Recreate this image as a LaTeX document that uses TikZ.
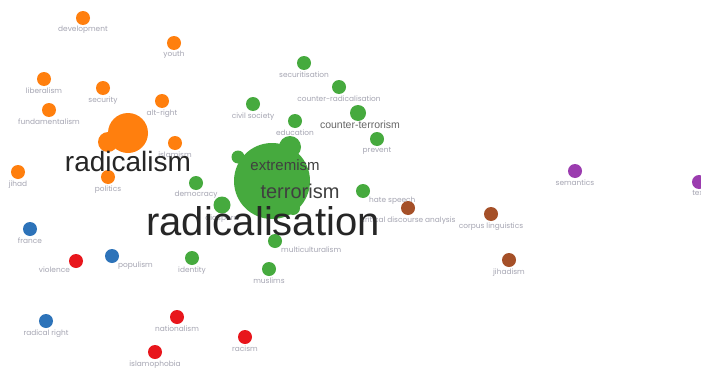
\documentclass[tikz,border=0pt]{standalone}
\usepackage{fontspec}
\setmainfont{Liberation Sans}
\newfontfamily\smallfont{Poppins}
\usetikzlibrary{backgrounds}
\definecolor{orangeterm}{RGB}{255,127,14}
\definecolor{greenterm}{RGB}{70,170,62}
\definecolor{blueterm}{RGB}{45,115,185}
\definecolor{redterm}{RGB}{232,22,28}
\definecolor{brownterm}{RGB}{165,80,40}
\definecolor{purpleterm}{RGB}{155,60,175}
\definecolor{labgrey}{RGB}{165,165,178}
\definecolor{linkgrey}{RGB}{212,212,212}
\definecolor{linkorange}{RGB}{250,208,172}
\begin{document}
\begin{tikzpicture}[x=1pt,y=-1pt]
	\tikzstyle{term}=[circle,inner sep=0pt,minimum size=14pt]
	\tikzstyle{oterm}=[term,fill=orangeterm]
	\tikzstyle{gterm}=[term,fill=greenterm]
	\tikzstyle{bterm}=[term,fill=blueterm]
	\tikzstyle{rterm}=[term,fill=redterm]
	\tikzstyle{nterm}=[term,fill=brownterm]
	\tikzstyle{pterm}=[term,fill=purpleterm]
	\tikzstyle{lab}=[font=\smallfont\fontsize{7.4}{8}\selectfont,text=labgrey,inner sep=0.5pt,label distance=0.5pt]
	\tikzstyle{link}=[draw=linkgrey,line width=0.9pt]
	\tikzstyle{olink}=[draw=linkorange,line width=0.9pt]
	\tikzstyle{biglab}=[inner sep=0pt,text=black!85]
	\useasboundingbox[fill=white] (0,0) rectangle (701,372);
	% orange cluster
	\node [oterm,label={[lab]below:development}] (development) at (83,18) {};
	\node [oterm,label={[lab]below:youth}] (youth) at (174,43) {};
	\node [oterm,label={[lab]below:liberalism}] (liberalism) at (44,79) {};
	\node [oterm,label={[lab]below:security}] (security) at (103,88) {};
	\node [oterm,label={[lab]below:alt-right}] (altright) at (162,101) {};
	\node [oterm,label={[lab]below:fundamentalism}] (fundamentalism) at (49,110) {};
	\node [oterm,label={[lab]below:islamism}] (islamism) at (175,143) {};
	\node [oterm,label={[lab]below:jihad}] (jihad) at (18,172) {};
	\node [oterm,label={[lab]below:politics}] (politics) at (108,177) {};
	\node [oterm,minimum size=20pt] (radicalism2) at (108,142) {};
	\node [oterm,minimum size=40pt] (radicalism) at (128,133) {};
	% green cluster
	\node [gterm,label={[lab]below:securitisation}] (securitisation) at (304,63) {};
	\node [gterm,label={[lab]below:counter-radicalisation}] (counterrad) at (339,87) {};
	\node [gterm,label={[lab]below:civil society}] (civilsociety) at (253,104) {};
	\node [gterm,label={[lab]below:education}] (education) at (295,121) {};
	\node [gterm,minimum size=16pt] (counterterrorism) at (358,113) {};
	\node [gterm,label={[lab]below:prevent}] (prevent) at (377,139) {};
	\node [gterm,minimum size=13pt,label={[lab]below right=-1pt and -4pt:ideology}] (ideology) at (238,157) {};
	\node [gterm,label={[lab]below:democracy}] (democracy) at (196,183) {};
	\node [gterm,minimum size=17pt,label={[lab]below:diaspora}] (diaspora) at (222,205) {};
	\node [gterm] (policy) at (293,208) {};
	\node [gterm,label={[lab]below right=-1pt and -6pt:hate speech}] (hatespeech) at (363,191) {};
	\node [gterm,label={[lab]below right=-1pt and -10pt:multiculturalism}] (multiculturalism) at (275,241) {};
	\node [gterm,label={[lab]below:identity}] (identity) at (192,258) {};
	\node [gterm,label={[lab]below:muslims}] (muslims) at (269,269) {};
	\node [gterm,minimum size=22pt] (extremism) at (290,147) {};
	\node [gterm,minimum size=76pt] (radicalisation) at (272,181) {};
	% blue and red cluster
	\node [bterm,label={[lab]below:france}] (france) at (30,229) {};
	\node [bterm,label={[lab]below right=-1pt and -6pt:populism}] (populism) at (112,256) {};
	\node [bterm,label={[lab]below:radical right}] (radicalright) at (46,321) {};
	\node [rterm,label={[lab]below left=-1pt and -8pt:violence}] (violence) at (76,261) {};
	\node [rterm,label={[lab]below:nationalism}] (nationalism) at (177,317) {};
	\node [rterm,label={[lab]below:racism}] (racism) at (245,337) {};
	\node [rterm,label={[lab]below:islamophobia}] (islamophobia) at (155,352) {};
	% brown and purple
	\node [nterm,label={[lab]below:critical discourse analysis}] (discourse) at (408,208) {};
	\node [nterm,label={[lab]below:corpus linguistics}] (corpus) at (491,214) {};
	\node [nterm,label={[lab]below:jihadism}] (jihadism) at (509,260) {};
	\node [pterm,label={[lab]below:semantics}] (semantics) at (575,171) {};
	\node [pterm,label={[lab]below:text}] (text) at (699,182) {};
	% big labels
	\node [biglab,font=\fontsize{28}{28}\selectfont] (radicalismlab) at (128,161) {radicalism};
	\node [biglab,font=\fontsize{15}{15}\selectfont,text=black!75] (extremismlab) at (285,165) {extremism};
	\node [biglab,font=\fontsize{20}{20}\selectfont,text=black!75] (terrorismlab) at (300,191) {terrorism};
	\node [biglab,font=\fontsize{40}{40}\selectfont] (radicalisationlab) at (263,221) {radicalisation};
	\node [biglab,font=\fontsize{10.5}{11}\selectfont,text=black!60] (counterterrorismlab) at (360,125) {counter-terrorism};
	\begin{pgfonlayer}{background}
		\path[olink] (radicalism) -- (development);
		\path[olink] (radicalism) -- (liberalism);
		\path[olink] (radicalism) -- (security);
		\path[olink] (development) -- (security);
		\path[olink] (radicalism) -- (altright);
		\path[olink] (altright) -- (youth);
		\path[olink] (radicalism) -- (fundamentalism);
		\path[olink] (radicalism) -- (islamism);
		\path[olink] (radicalism) -- (jihad);
		\path[olink] (radicalism) -- (politics);
		\path[olink] (radicalism2) -- (fundamentalism);
		\path[link] (radicalism) -- (radicalisation);
		\path[link] (radicalism) -- (extremism);
		\path[link] (radicalism) -- (civilsociety);
		\path[link] (islamism) -- (radicalisation);
		\path[link] (civilsociety) -- (radicalisation);
		\path[link] (securitisation) -- (education);
		\path[link] (securitisation) -- (counterrad);
		\path[link] (counterrad) -- (prevent);
		\path[link] (counterrad) -- (radicalisation);
		\path[link] (education) -- (radicalisation);
		\path[link] (prevent) -- (radicalisation);
		\path[draw=greenterm!60,line width=0.9pt] (counterterrorism) to[bend left=10] (radicalisation);
		\path[link] (hatespeech) -- (radicalisation);
		\path[link] (multiculturalism) -- (radicalisation);
		\path[link] (muslims) -- (multiculturalism);
		\path[link] (identity) -- (diaspora);
		\path[link] (democracy) -- (radicalisation);
		\path[link] (radicalisation) -- (discourse);
		\path[link] (hatespeech) -- (corpus);
		\path[link] (discourse) -- (corpus);
		\path[link] (discourse) -- (jihadism);
		\path[link] (radicalisation) -- (jihadism);
		\path[link] (semantics) -- (text);
		\path[link] (jihad) -- (france);
		\path[link] (france) -- (violence);
		\path[link] (france) -- (populism);
		\path[link] (violence) -- (populism);
		\path[link] (violence) -- (radicalright);
		\path[link] (violence) to[bend right=10] (nationalism);
		\path[link] (populism) -- (islamophobia);
		\path[link] (nationalism) -- (islamophobia);
		\path[link] (islamophobia) to[bend right=8] (racism);
		\path[link] (radicalism) -- (nationalism);
		\path[link] (politics) -- (violence);
	\end{pgfonlayer}
\end{tikzpicture}
\end{document}
